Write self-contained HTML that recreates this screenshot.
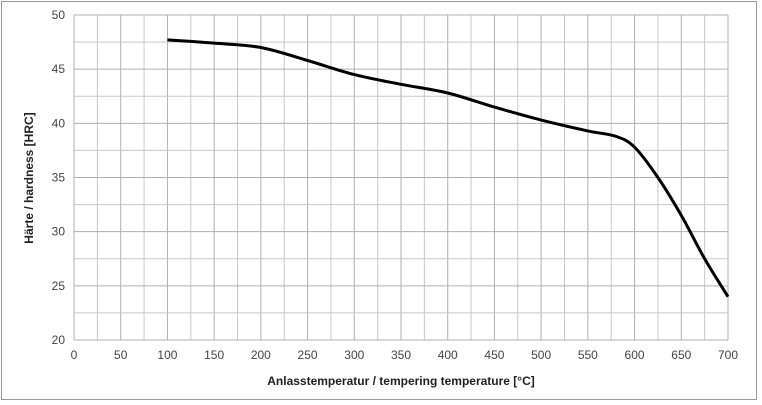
<!DOCTYPE html>
<html><head><meta charset="utf-8"><style>
body{margin:0;background:#fff;}
svg{display:block;font-family:"Liberation Sans",sans-serif;}
</style></head><body>
<svg id="chart" width="762" height="405">
<rect x="1.5" y="1.5" width="755" height="398" fill="#fff" stroke="#999"/>
<g id="grid"></g><g id="axes"></g><g id="series"></g>
<text x="401" y="385" text-anchor="middle" font-size="12" font-weight="bold" fill="#222">Anlasstemperatur / tempering temperature [°C]</text>
<text transform="translate(33,178) rotate(-90)" text-anchor="middle" font-size="12" font-weight="bold" fill="#222">Härte / hardness [HRC]</text>
</svg>
<script>
const temps=[100,150,200,250,300,350,400,450,500,550,580,600,625,650,675,700];
const hardness=[47.7,47.4,47.0,45.8,44.5,43.6,42.8,41.5,40.3,39.3,38.8,37.8,35.0,31.5,27.5,24.0];
const xTicks=[0,50,100,150,200,250,300,350,400,450,500,550,600,650,700];
const yTicks=[20,25,30,35,40,45,50];
const NS="http://www.w3.org/2000/svg";
const L=74,R=728,T=15,B=340;
const xs=v=>L+(v-0)/700*(R-L);
const ys=v=>B-(v-20)/30*(B-T);
function mk(tag,attrs,parent){const e=document.createElementNS(NS,tag);for(const k in attrs)e.setAttribute(k,attrs[k]);parent.appendChild(e);return e;}
const grid=document.getElementById('grid'),axes=document.getElementById('axes'),ser=document.getElementById('series');
for(let v=0;v<=700;v+=25){const l=mk('line',{x1:xs(v),x2:xs(v),y1:T,y2:B,stroke:v%50?'#c8c8c8':'#b0b0b0','stroke-width':1},grid);

}
for(let v=20;v<=50;v+=2.5){const l=mk('line',{x1:L,x2:R,y1:ys(v),y2:ys(v),stroke:v%5?'#c8c8c8':'#b0b0b0','stroke-width':1},grid);

}
xTicks.forEach(v=>{const t=mk('text',{x:xs(v),y:B+19,'text-anchor':'middle','font-size':12,fill:'#444'},axes);t.textContent=v;

});
yTicks.forEach(v=>{const t=mk('text',{x:L-9,y:ys(v)+4,'text-anchor':'end','font-size':12,fill:'#444'},axes);t.textContent=v;

});
const pts=temps.map((t,i)=>[xs(t),ys(hardness[i])]);
let d='M'+pts[0][0]+','+pts[0][1];
for(let i=0;i<pts.length-1;i++){const p0=pts[i-1]||pts[i],p1=pts[i],p2=pts[i+1],p3=pts[i+2]||p2;
d+=' C'+(p1[0]+(p2[0]-p0[0])/6)+','+(p1[1]+(p2[1]-p0[1])/6)+' '+(p2[0]-(p3[0]-p1[0])/6)+','+(p2[1]-(p3[1]-p1[1])/6)+' '+p2[0]+','+p2[1];}
const path=mk('path',{d:d,fill:'none',stroke:'#000','stroke-width':3},ser);


</script>
</body></html>
